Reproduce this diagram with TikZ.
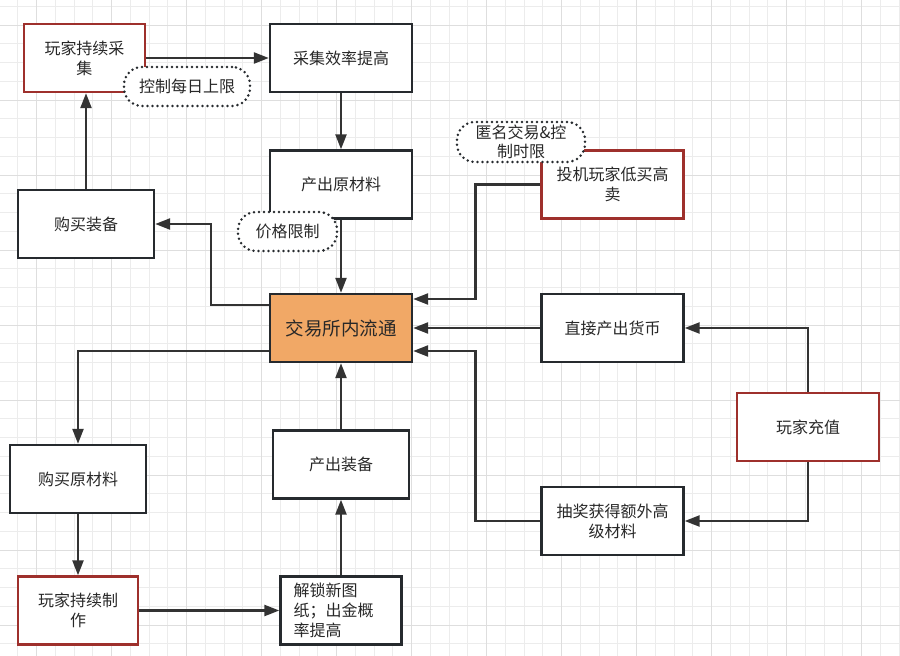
\documentclass[tikz,border=0pt]{standalone}
\usepackage{fontspec}
\setmainfont{Noto Sans CJK SC}
\usetikzlibrary{arrows.meta}
\definecolor{gridminor}{RGB}{236,236,236}
\definecolor{gridmajor}{RGB}{222,222,222}
\definecolor{boxline}{RGB}{38,42,46}
\definecolor{boxred}{RGB}{158,48,44}
\definecolor{hubfill}{RGB}{241,168,102}
\definecolor{linegray}{RGB}{51,51,51}
\definecolor{textgray}{RGB}{40,40,40}
\begin{document}
\begin{tikzpicture}[x=1pt, y=-1pt, line width=2pt,
  every node/.style={font=\fontsize{16}{20}\selectfont, text=textgray, align=center},
  box/.style={draw=boxline, line width=2.4pt, fill=white, minimum width=142pt, minimum height=68pt, inner sep=0pt},
  redbox/.style={box, draw=boxred},
  hub/.style={box, fill=hubfill, font=\fontsize{18.5}{22}\selectfont},
  note/.style={draw=boxline, fill=white, line width=2.8pt, dash pattern=on 0pt off 5pt, line cap=round, rounded corners=18pt, minimum height=39pt, inner sep=0pt},
  flow/.style={draw=linegray, line width=2.4pt, -{Triangle[length=15pt,width=11pt]}}]
  \useasboundingbox (0,0) rectangle (900,656);
  \fill[white] (0,0) rectangle (900,656);
  \foreach \i in {0,...,48} \draw[gridminor, line width=1pt] ({-0.8+18.75*\i},0) -- ++(0,656);
  \foreach \i in {0,...,34} \draw[gridminor, line width=1pt] (0,{6.25+18.75*\i}) -- ++(900,0);
  \foreach \i in {0,...,11} \draw[gridmajor, line width=1pt] ({36.7+75*\i},0) -- ++(0,656);
  \foreach \i in {0,...,8} \draw[gridmajor, line width=1pt] (0,{25+75*\i}) -- ++(900,0);

  \node[redbox, minimum width=121pt] (gather) at (84.5,58) {玩家持续采\\集};
  \node[box] (effic) at (341,58) {采集效率提高};
  \node[box] (rawout) at (341,184.5) {产出原材料};
  \node[box, minimum width=136pt] (buyeq) at (86,224) {购买装备};
  \node[hub] (hub) at (341,328) {交易所内流通};
  \node[redbox] (spec) at (612.5,184.5) {投机玩家低买高\\卖};
  \node[box] (coin) at (612.5,328) {直接产出货币};
  \node[redbox] (charge) at (808,427) {玩家充值};
  \node[box] (lottery) at (612.5,521) {抽奖获得额外高\\级材料};
  \node[box, minimum width=136pt] (buyraw) at (78,479) {购买原材料};
  \node[redbox, minimum width=120pt] (craft) at (78,610.5) {玩家持续制\\作};
  \node[box, minimum width=136pt] (eqout) at (341,464.5) {产出装备};
  \node[box, minimum width=121pt, text width=95pt, align=left] (unlock) at (341,610.5) {解锁新图\\纸；出金概\\率提高};

  \draw[flow] (gather.east) -- (effic.west);
  \draw[flow] (effic) -- (rawout);
  \draw[flow] (rawout) -- (hub);
  \draw[flow] ([yshift=23pt]hub.west) -- ++(-58,0) |- (buyeq.east);
  \draw[flow] (buyeq.north) -- (buyeq.north |- gather.south);
  \draw[flow] ([yshift=-23pt]hub.west) -| (buyraw.north);
  \draw[flow] (buyraw) -- (craft);
  \draw[flow] (craft) -- (unlock);
  \draw[flow] (unlock) -- (eqout);
  \draw[flow] (eqout) -- (hub);
  \draw[flow] (spec.west) -- ++(-65,0) |- ([yshift=29pt]hub.east);
  \draw[flow] (coin) -- (hub);
  \draw[flow] (charge.north) |- (coin.east);
  \draw[flow] (charge.south) |- (lottery.east);
  \draw[flow] (lottery.west) -- ++(-65,0) |- ([yshift=-23pt]hub.east);

  \node[note, minimum width=126pt] (cap) at (187,86.5) {控制每日上限};
  \node[note, minimum width=99pt] (price) at (287.5,231.5) {价格限制};
  \node[note, minimum width=128pt, minimum height=40pt, font=\fontsize{16}{19.4}\selectfont] (anon) at (521,142) {匿名交易\&控\\制时限};
\end{tikzpicture}
\end{document}
